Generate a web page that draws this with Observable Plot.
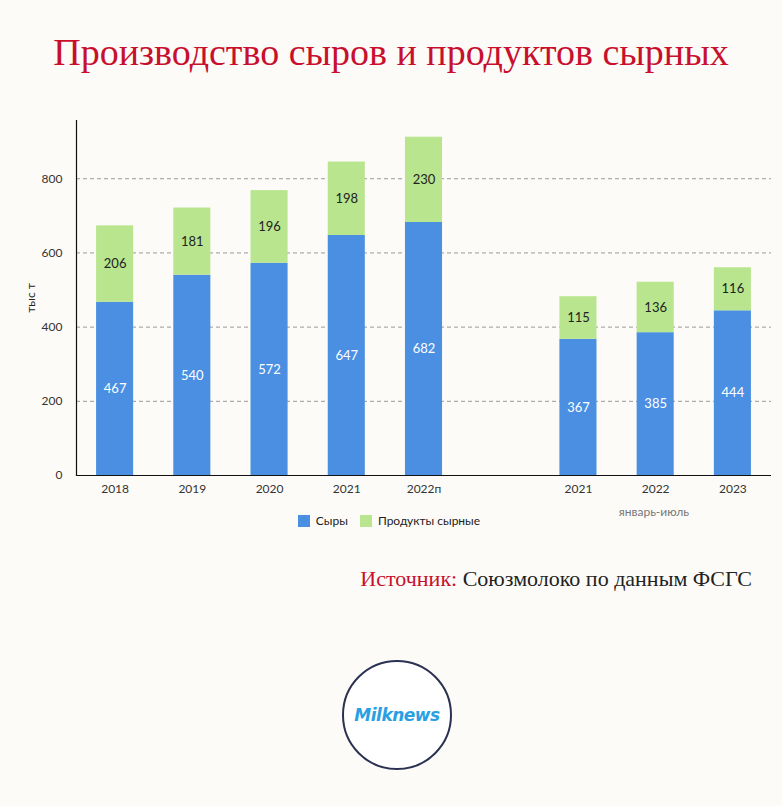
<!DOCTYPE html>
<html><head><meta charset="utf-8">
<script src="https://cdn.jsdelivr.net/npm/d3@7"></script>
<script src="https://cdn.jsdelivr.net/npm/@observablehq/plot@0.6"></script>
<style>
html,body{margin:0;padding:0;background:#fcfbf7;}
#wrap{position:relative;width:782px;height:806px;background:#fcfbf7;overflow:hidden;font-family:Lato,"Noto Sans",sans-serif;}
#title{position:absolute;left:0;width:782px;top:30px;text-align:center;font-family:"Liberation Serif","DejaVu Serif",serif;font-size:38px;color:#c8102e;white-space:nowrap;}
#chart{position:absolute;left:0;top:110px;}
#ylab{position:absolute;left:30px;top:298px;transform:translate(-50%,-50%) rotate(-90deg);font-size:12px;color:#222;white-space:nowrap;}
#period{position:absolute;left:654px;top:504px;transform:translateX(-50%);font-size:12px;color:#777;white-space:nowrap;}
#legend{position:absolute;left:0;width:782px;top:513px;display:flex;justify-content:center;gap:12px;font-size:12px;color:#222;padding-right:4px;box-sizing:border-box;}
#legend span{display:inline-flex;align-items:center;}
#legend i{display:inline-block;width:12px;height:12px;margin-right:6px;}
#source{position:absolute;right:30px;top:566px;font-family:"Liberation Serif","DejaVu Serif",serif;font-size:22px;color:#222;white-space:nowrap;}
#source b{font-weight:normal;color:#c8102e;}
#logo{position:absolute;left:342px;top:660px;width:106px;height:106px;border:2.5px solid #2b3152;border-radius:50%;background:#fff;display:flex;align-items:center;justify-content:center;}
#logo span{font-family:"DejaVu Sans","Noto Sans",sans-serif;font-style:italic;font-weight:bold;font-size:17px;color:#2a9fe3;letter-spacing:-0.5px;}
</style></head>
<body><div id="wrap">
<div id="title">Производство сыров и продуктов сырных</div>
<div id="chart"></div>
<div id="ylab">тыс т</div>
<div id="period">январь-июль</div>
<div id="legend"><span><i style="background:#4a8fe2"></i>Сыры</span><span><i style="background:#b8e58e"></i>Продукты сырные</span></div>
<div id="source"><b>Источник:</b> Союзмолоко по данным ФСГС</div>
<div id="logo"><span>Milknews</span></div>
</div>
<script>
const keys = ["2018","2019","2020","2021","2022п","gap","2021 ","2022 ","2023 "];
const tickLabels = ["2018","2019","2020","2021","2022п","","2021","2022","2023"];
const cheese = [467,540,572,647,682,null,367,385,444];
const products = [206,181,196,198,230,null,115,136,116];
const seriesNames = ["Сыры","Продукты сырные"];
const colors = ["#4a8fe2","#b8e58e"];
const yTicks = [0,200,400,600,800];

const rows = [];
keys.forEach((k,i)=>{
  if (cheese[i]==null) return;
  rows.push({key:k, series:seriesNames[0], value:cheese[i], y1:0, y2:cheese[i]});
  rows.push({key:k, series:seriesNames[1], value:products[i], y1:cheese[i], y2:cheese[i]+products[i]});
});
const labelMap = new Map(keys.map((k,i)=>[k,tickLabels[i]]));

const plot = Plot.plot({
  width: 782, height: 400,
  marginLeft: 76, marginRight: 11, marginTop: 10, marginBottom: 35,
  style: {background:"transparent", fontFamily:"Lato, 'Noto Sans', sans-serif", fontSize:"12px", color:"#333"},
  x: {domain: keys, paddingInner: 0.52, paddingOuter: 0.26, label: null, round: false},
  y: {domain: [0, 957], label: null},
  color: {domain: seriesNames, range: colors},
  marks: [
    Plot.gridY(yTicks.slice(1), {stroke:"#999", strokeOpacity:1, strokeDasharray:"4,3"}),
    Plot.axisY(yTicks, {tickSize:0, tickPadding:14, label:null, fontSize:12}),
    Plot.axisX({tickSize:0, tickPadding:9, fontSize:12, label:null, tickFormat: d => labelMap.get(d)}),
    Plot.rectY(rows, {x:"key", y1:"y1", y2:"y2", fill:"series"}),
    Plot.text(rows, {x:"key", y: d => (d.y1+d.y2)/2, text: d => String(d.value), fill: d => d.series===seriesNames[0] ? "#ffffff" : "#222222", fontSize:13}),
    Plot.ruleY([0], {stroke:"#111", strokeWidth:1.2}),
    Plot.frame({anchor:"left", stroke:"#111", strokeWidth:1.2})
  ]
});
document.getElementById("chart").appendChild(plot);
</script>
</body></html>
